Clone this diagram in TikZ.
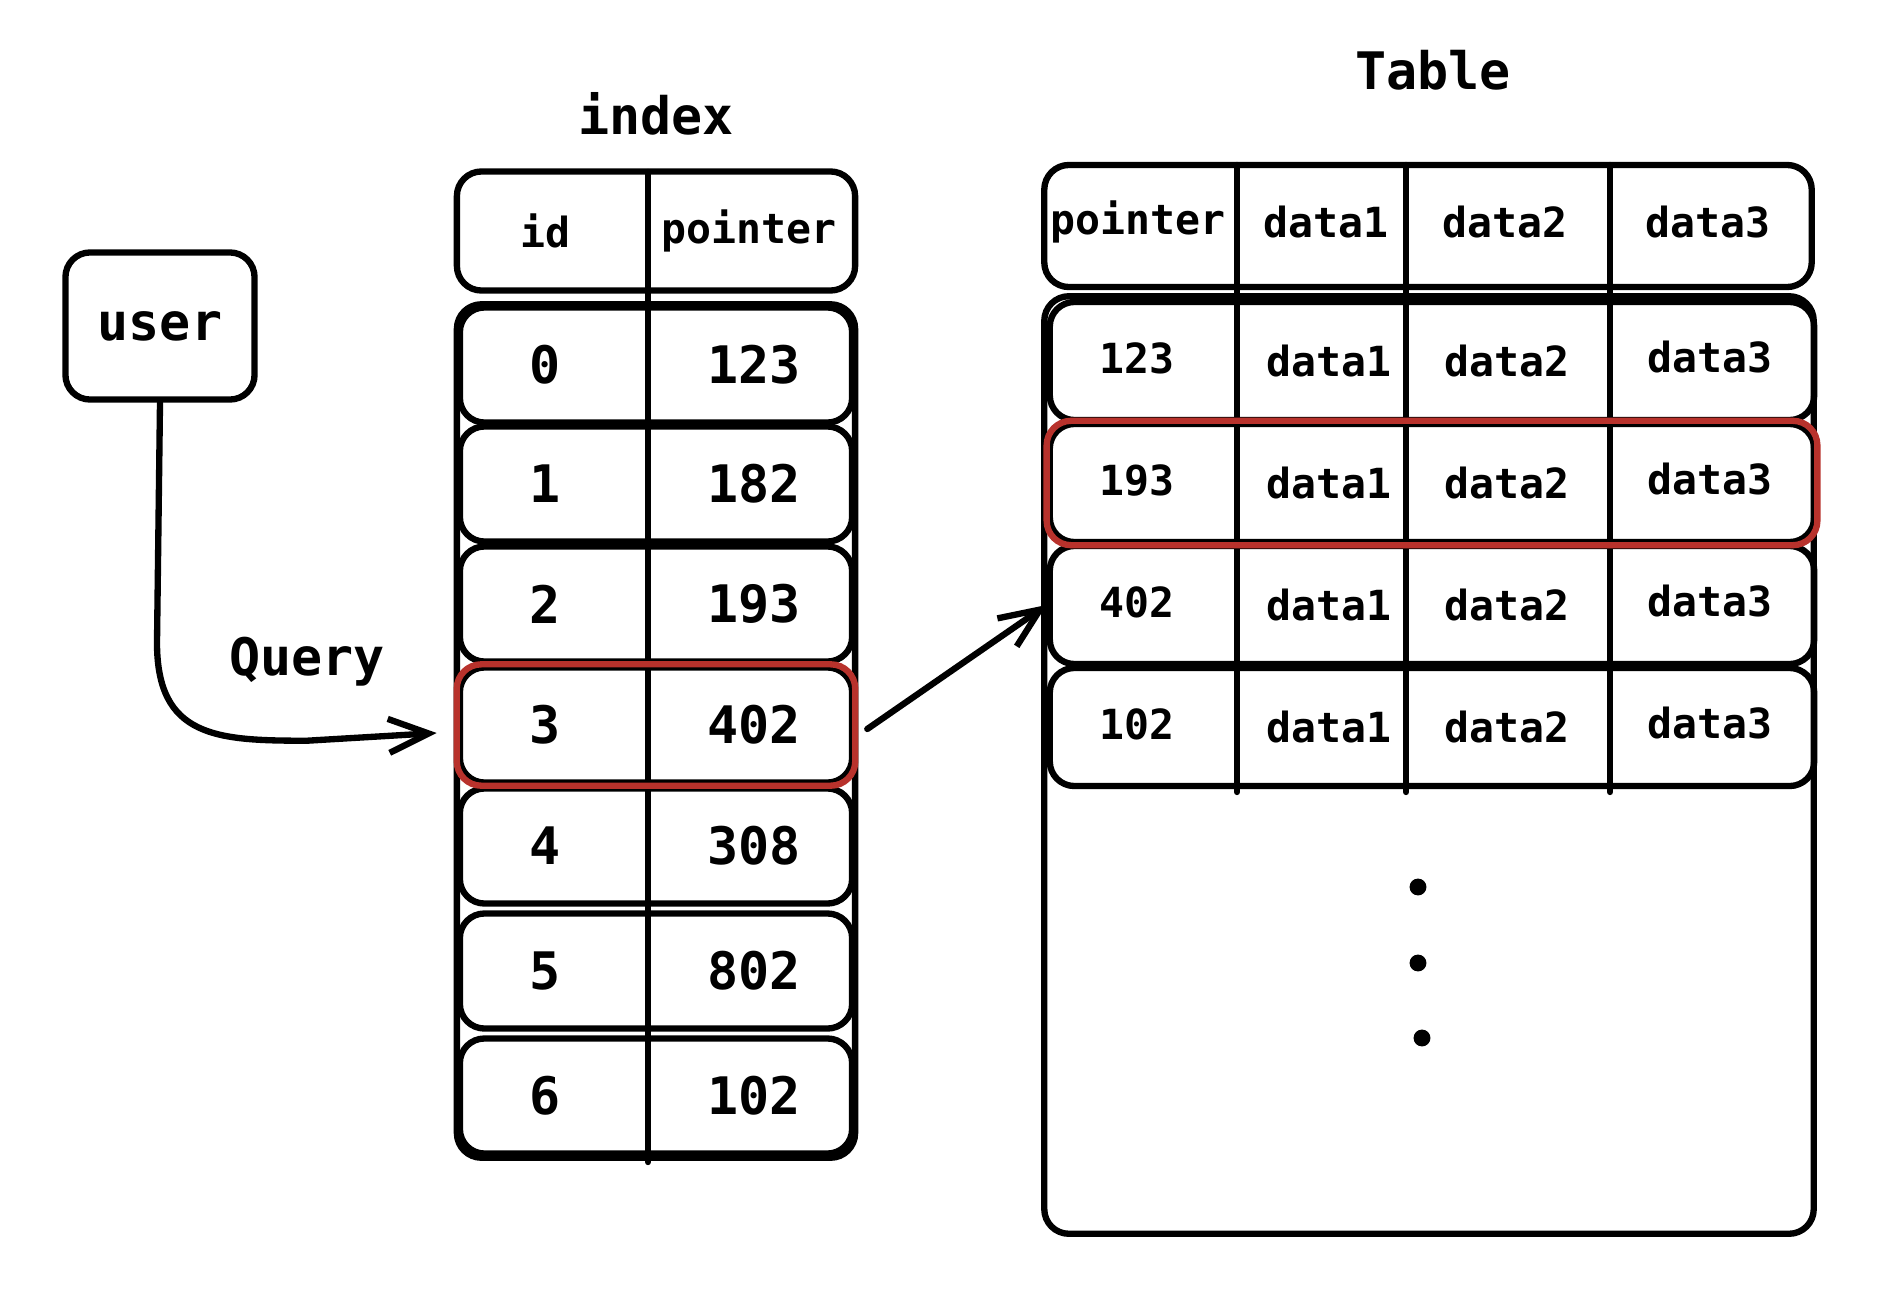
\documentclass[tikz,border=0pt]{standalone}
\usepackage{fontspec}
\setmonofont{DejaVu Sans Mono}
\usetikzlibrary{arrows.meta}
\definecolor{hired}{RGB}{184,50,44}
\begin{document}
\begin{tikzpicture}[x=0.01cm, y=-0.01cm, line width=1.8pt, line join=round, line cap=round,
  >={Straight Barb[length=4mm,width=3.4mm]},
  box/.style={draw, rounded corners=7pt, inner sep=0pt},
  big/.style={font=\ttfamily\bfseries\fontsize{14.7}{17}\selectfont},
  small/.style={font=\ttfamily\bfseries\fontsize{11.8}{14}\selectfont}]
  \useasboundingbox (0,0) rectangle (1888,1312);

  % 1. 标题
  \node[big] (idxlbl) at (656,114) {index};
  \node[big] (tbllbl) at (1433,70) {Table};

  % 2. 用户
  \node[box, big, minimum width=1.89cm, minimum height=1.47cm] (user) at (160,326) {user};

  % 3. 索引表
  \node[box, minimum width=3.98cm, minimum height=1.19cm] (ihead) at (656,231) {};
  \node[small] (ihid) at (545,231) {id};
  \node[small] (ihptr) at (749,231) {pointer};
  \node[box, minimum width=3.98cm, minimum height=8.53cm] (ibody) at (656,731) {};
  \foreach \i/\p/\yy in {0/123/365,1/182/484,2/193/604,3/402/725,4/308/846,5/802/971,6/102/1096} {
    \node[box, minimum width=3.92cm, minimum height=1.15cm] (ir\i) at (656,\yy) {};
    \node[big] (iid\i) at (545,\yy) {\i};
    \node[big] (iptr\i) at (754,\yy) {\p};
  }
  \draw (648,172) -- (648,1162);
  \draw[hired, rounded corners=7pt] (ir3.north west) rectangle (ir3.south east);

  % 4. 数据表
  \node[box, minimum width=7.67cm, minimum height=1.22cm] (thead) at (1428,226) {};
  \foreach \c/\t in {1138/pointer,1326/data1,1505/data2,1708/data3}
    \node[small] (th\t) at (\c,222) {\t};
  \node[box, minimum width=7.69cm, minimum height=9.37cm] (tbody) at (1429,765) {};
  \foreach \j/\p in {1/123,2/193,3/402,4/102} {
    \pgfmathsetmacro{\yy}{361+122*(\j-1)}
    \node[box, minimum width=7.64cm, minimum height=1.18cm] (tr\j) at (1432,\yy) {};
    \node[small] (tp\j) at (1137,\yy-3) {\p};
    \node[small] (ta\j) at (1329,\yy) {data1};
    \node[small] (tb\j) at (1507,\yy) {data2};
    \node[small] (tc\j) at (1710,\yy-4) {data3};
  }
  \foreach \x in {1237,1406,1610}
    \draw (\x,165) -- (\x,792);
  \draw[hired, rounded corners=7pt] (tr2.north west) rectangle (tr2.south east);

  % 5. 省略号
  \fill (1418,887) circle[radius=2.4pt];
  \fill (1418,963) circle[radius=2.4pt];
  \fill (1422,1038) circle[radius=2.4pt];

  % 6. 查询箭头
  \draw[->] (user.south) -- ++(-3,240) .. controls +(0,95) and +(-90,0) .. ++(150,98)
    -- ([shift={(-20,8)}]ir3.west);
  \node[big] (qlbl) at (307,662) {Query};
  \draw[->] ([shift={(12,4)}]ir3.east) -- (tr3.west);
\end{tikzpicture}
\end{document}
